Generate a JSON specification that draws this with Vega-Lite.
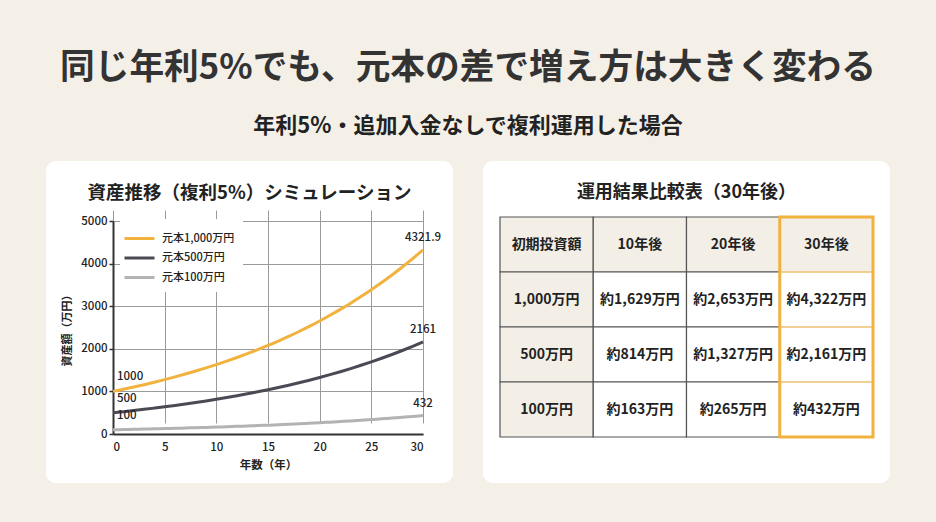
{
  "$schema": "https://vega.github.io/schema/vega-lite/v6.json",
  "background": "#f4f0e8",
  "padding": {"left": 46, "right": 46, "top": 51, "bottom": 39},
  "bounds": "flush",
  "spacing": 30,
  "title": {
    "text": "同じ年利5%でも、元本の差で増え方は大きく変わる",
    "subtitle": "年利5%・追加入金なしで複利運用した場合",
    "anchor": "middle",
    "fontSize": 34.7,
    "fontWeight": "bold",
    "color": "#333333",
    "subtitleFontSize": 22,
    "subtitleFontWeight": "bold",
    "subtitleColor": "#222222",
    "subtitlePadding": 29,
    "offset": 23
  },
  "datasets": {
    "growth": [
      {"series": "元本1,000万円", "year": 0, "value": 1000},
      {"series": "元本1,000万円", "year": 1, "value": 1050},
      {"series": "元本1,000万円", "year": 2, "value": 1102.5},
      {"series": "元本1,000万円", "year": 3, "value": 1157.6},
      {"series": "元本1,000万円", "year": 4, "value": 1215.5},
      {"series": "元本1,000万円", "year": 5, "value": 1276.3},
      {"series": "元本1,000万円", "year": 6, "value": 1340.1},
      {"series": "元本1,000万円", "year": 7, "value": 1407.1},
      {"series": "元本1,000万円", "year": 8, "value": 1477.5},
      {"series": "元本1,000万円", "year": 9, "value": 1551.3},
      {"series": "元本1,000万円", "year": 10, "value": 1628.9},
      {"series": "元本1,000万円", "year": 11, "value": 1710.3},
      {"series": "元本1,000万円", "year": 12, "value": 1795.9},
      {"series": "元本1,000万円", "year": 13, "value": 1885.6},
      {"series": "元本1,000万円", "year": 14, "value": 1979.9},
      {"series": "元本1,000万円", "year": 15, "value": 2078.9},
      {"series": "元本1,000万円", "year": 16, "value": 2182.9},
      {"series": "元本1,000万円", "year": 17, "value": 2292},
      {"series": "元本1,000万円", "year": 18, "value": 2406.6},
      {"series": "元本1,000万円", "year": 19, "value": 2527},
      {"series": "元本1,000万円", "year": 20, "value": 2653.3},
      {"series": "元本1,000万円", "year": 21, "value": 2786},
      {"series": "元本1,000万円", "year": 22, "value": 2925.3},
      {"series": "元本1,000万円", "year": 23, "value": 3071.5},
      {"series": "元本1,000万円", "year": 24, "value": 3225.1},
      {"series": "元本1,000万円", "year": 25, "value": 3386.4},
      {"series": "元本1,000万円", "year": 26, "value": 3555.7},
      {"series": "元本1,000万円", "year": 27, "value": 3733.5},
      {"series": "元本1,000万円", "year": 28, "value": 3920.1},
      {"series": "元本1,000万円", "year": 29, "value": 4116.1},
      {"series": "元本1,000万円", "year": 30, "value": 4321.9},
      {"series": "元本500万円", "year": 0, "value": 500},
      {"series": "元本500万円", "year": 1, "value": 525},
      {"series": "元本500万円", "year": 2, "value": 551.3},
      {"series": "元本500万円", "year": 3, "value": 578.8},
      {"series": "元本500万円", "year": 4, "value": 607.8},
      {"series": "元本500万円", "year": 5, "value": 638.1},
      {"series": "元本500万円", "year": 6, "value": 670},
      {"series": "元本500万円", "year": 7, "value": 703.6},
      {"series": "元本500万円", "year": 8, "value": 738.7},
      {"series": "元本500万円", "year": 9, "value": 775.7},
      {"series": "元本500万円", "year": 10, "value": 814.4},
      {"series": "元本500万円", "year": 11, "value": 855.2},
      {"series": "元本500万円", "year": 12, "value": 897.9},
      {"series": "元本500万円", "year": 13, "value": 942.8},
      {"series": "元本500万円", "year": 14, "value": 990},
      {"series": "元本500万円", "year": 15, "value": 1039.5},
      {"series": "元本500万円", "year": 16, "value": 1091.4},
      {"series": "元本500万円", "year": 17, "value": 1146},
      {"series": "元本500万円", "year": 18, "value": 1203.3},
      {"series": "元本500万円", "year": 19, "value": 1263.5},
      {"series": "元本500万円", "year": 20, "value": 1326.6},
      {"series": "元本500万円", "year": 21, "value": 1393},
      {"series": "元本500万円", "year": 22, "value": 1462.6},
      {"series": "元本500万円", "year": 23, "value": 1535.8},
      {"series": "元本500万円", "year": 24, "value": 1612.6},
      {"series": "元本500万円", "year": 25, "value": 1693.2},
      {"series": "元本500万円", "year": 26, "value": 1777.8},
      {"series": "元本500万円", "year": 27, "value": 1866.7},
      {"series": "元本500万円", "year": 28, "value": 1960.1},
      {"series": "元本500万円", "year": 29, "value": 2058.1},
      {"series": "元本500万円", "year": 30, "value": 2161},
      {"series": "元本100万円", "year": 0, "value": 100},
      {"series": "元本100万円", "year": 1, "value": 105},
      {"series": "元本100万円", "year": 2, "value": 110.3},
      {"series": "元本100万円", "year": 3, "value": 115.8},
      {"series": "元本100万円", "year": 4, "value": 121.6},
      {"series": "元本100万円", "year": 5, "value": 127.6},
      {"series": "元本100万円", "year": 6, "value": 134},
      {"series": "元本100万円", "year": 7, "value": 140.7},
      {"series": "元本100万円", "year": 8, "value": 147.7},
      {"series": "元本100万円", "year": 9, "value": 155.1},
      {"series": "元本100万円", "year": 10, "value": 162.9},
      {"series": "元本100万円", "year": 11, "value": 171},
      {"series": "元本100万円", "year": 12, "value": 179.6},
      {"series": "元本100万円", "year": 13, "value": 188.6},
      {"series": "元本100万円", "year": 14, "value": 198},
      {"series": "元本100万円", "year": 15, "value": 207.9},
      {"series": "元本100万円", "year": 16, "value": 218.3},
      {"series": "元本100万円", "year": 17, "value": 229.2},
      {"series": "元本100万円", "year": 18, "value": 240.7},
      {"series": "元本100万円", "year": 19, "value": 252.7},
      {"series": "元本100万円", "year": 20, "value": 265.3},
      {"series": "元本100万円", "year": 21, "value": 278.6},
      {"series": "元本100万円", "year": 22, "value": 292.5},
      {"series": "元本100万円", "year": 23, "value": 307.2},
      {"series": "元本100万円", "year": 24, "value": 322.5},
      {"series": "元本100万円", "year": 25, "value": 338.6},
      {"series": "元本100万円", "year": 26, "value": 355.6},
      {"series": "元本100万円", "year": 27, "value": 373.3},
      {"series": "元本100万円", "year": 28, "value": 392},
      {"series": "元本100万円", "year": 29, "value": 411.6},
      {"series": "元本100万円", "year": 30, "value": 432}
    ],
    "table": [
      {"row": "初期投資額", "col": "初期投資額", "text": "初期投資額"},
      {"row": "初期投資額", "col": "10年後", "text": "10年後"},
      {"row": "初期投資額", "col": "20年後", "text": "20年後"},
      {"row": "初期投資額", "col": "30年後", "text": "30年後"},
      {"row": "1,000万円", "col": "初期投資額", "text": "1,000万円"},
      {"row": "1,000万円", "col": "10年後", "text": "約1,629万円"},
      {"row": "1,000万円", "col": "20年後", "text": "約2,653万円"},
      {"row": "1,000万円", "col": "30年後", "text": "約4,322万円"},
      {"row": "500万円", "col": "初期投資額", "text": "500万円"},
      {"row": "500万円", "col": "10年後", "text": "約814万円"},
      {"row": "500万円", "col": "20年後", "text": "約1,327万円"},
      {"row": "500万円", "col": "30年後", "text": "約2,161万円"},
      {"row": "100万円", "col": "初期投資額", "text": "100万円"},
      {"row": "100万円", "col": "10年後", "text": "約163万円"},
      {"row": "100万円", "col": "20年後", "text": "約265万円"},
      {"row": "100万円", "col": "30年後", "text": "約432万円"}
    ],
    "highlight": [
      {"col": "30年後", "from": "初期投資額", "to": "100万円"}
    ]
  },
  "hconcat": [
    {
      "width": 407,
      "height": 322,
      "view": {"fill": "#ffffff", "stroke": null, "cornerRadius": 10},
      "title": {
        "text": "資産推移（複利5%）シミュレーション",
        "anchor": "middle",
        "frame": "group",
        "baseline": "middle",
        "offset": -50,
        "fontSize": 18.5,
        "fontWeight": "bold",
        "color": "#222222"
      },
      "data": {"name": "growth"},
      "encoding": {
        "x": {
          "field": "year",
          "type": "quantitative",
          "scale": {"domain": [0, 30], "range": [67, 377], "nice": false},
          "axis": {
            "values": [0, 5, 10, 15, 20, 25, 30],
            "offset": -49,
            "grid": true,
            "gridColor": "#9a9a9a",
            "gridWidth": 1,
            "ticks": false,
            "domainColor": "#333333",
            "domainWidth": 2,
            "labelPadding": 7,
            "labelFontSize": 11.5,
            "labelFontWeight": 500,
            "labelColor": "#222222",
            "title": "年数（年）",
            "titlePadding": 7,
            "titleFontSize": 11.5,
            "titleFontWeight": "bold",
            "titleColor": "#222222"
          }
        },
        "y": {
          "field": "value",
          "type": "quantitative",
          "scale": {"domain": [0, 5000], "range": [273, 60], "nice": false},
          "axis": {
            "values": [0, 1000, 2000, 3000, 4000, 5000],
            "format": "d",
            "offset": -67,
            "grid": true,
            "gridColor": "#9a9a9a",
            "gridWidth": 1,
            "ticks": true,
            "tickSize": 4,
            "tickColor": "#333333",
            "tickWidth": 1.5,
            "domainColor": "#333333",
            "domainWidth": 2,
            "labelPadding": 2,
            "labelFontSize": 11.5,
            "labelFontWeight": 500,
            "labelColor": "#222222",
            "title": "資産額（万円）",
            "titlePadding": 8,
            "titleFontSize": 11,
            "titleFontWeight": "bold",
            "titleColor": "#222222"
          }
        }
      },
      "layer": [
        {
          "mark": {"type": "line", "strokeWidth": 3, "interpolate": "monotone"},
          "encoding": {
            "color": {
              "field": "series",
              "type": "nominal",
              "scale": {
                "domain": ["元本1,000万円", "元本500万円", "元本100万円"],
                "range": ["#f2b23e", "#4a4a55", "#b3b3b3"]
              },
              "legend": {
                "orient": "none",
                "legendX": 74,
                "legendY": 58,
                "title": null,
                "fillColor": "#ffffff",
                "padding": 8,
                "symbolType": "M-1.5,0H1.5",
                "symbolSize": 400,
                "symbolStrokeWidth": 3,
                "labelFontSize": 11,
                "labelFontWeight": 500,
                "labelColor": "#222222",
                "labelOffset": 11,
                "rowPadding": 1.5
              }
            }
          }
        },
        {
          "transform": [{"filter": "datum.year == 0"}],
          "mark": {"type": "text", "align": "left", "baseline": "middle", "dx": 4, "dy": -14, "fontSize": 11.5, "fontWeight": 500, "color": "#222222"},
          "encoding": {"text": {"field": "value", "type": "quantitative", "format": "~g"}}
        },
        {
          "transform": [{"filter": "datum.year == 30"}],
          "mark": {"type": "text", "align": "center", "baseline": "middle", "dy": -12, "fontSize": 11.5, "fontWeight": 500, "color": "#222222"},
          "encoding": {"text": {"field": "value", "type": "quantitative", "format": "~g"}}
        }
      ]
    },
    {
      "width": 407,
      "height": 322,
      "view": {"fill": "#ffffff", "stroke": null, "cornerRadius": 10},
      "title": {
        "text": "運用結果比較表（30年後）",
        "anchor": "middle",
        "frame": "group",
        "baseline": "middle",
        "offset": -50,
        "fontSize": 18,
        "fontWeight": "bold",
        "color": "#222222"
      },
      "encoding": {
        "x": {
          "field": "col",
          "type": "nominal",
          "scale": {"domain": ["初期投資額", "10年後", "20年後", "30年後"], "range": [17, 390], "paddingInner": 0, "paddingOuter": 0},
          "axis": null
        }
      },
      "layer": [
        {
          "data": {"name": "table"},
          "mark": {"type": "rect", "stroke": "#555555", "strokeWidth": 1.2},
          "encoding": {
            "y": {"field": "row", "type": "nominal", "scale": {"domain": ["初期投資額", "1,000万円", "500万円", "100万円"], "range": [56, 276], "paddingInner": 0, "paddingOuter": 0}, "axis": null},
            "fill": {
              "condition": {"test": "datum.row == '初期投資額' || datum.col == '初期投資額'", "value": "#f3efe6"},
              "value": "#ffffff"
            }
          }
        },
        {
          "data": {"name": "table"},
          "transform": [{"filter": "datum.col == '30年後'"}],
          "mark": {"type": "rect", "fill": null, "stroke": "#f8d492", "strokeWidth": 1.5},
          "encoding": {
            "y": {"field": "row", "type": "nominal", "axis": null}
          }
        },
        {
          "data": {"name": "highlight"},
          "mark": {"type": "rect", "fill": null, "stroke": "#f2b23e", "strokeWidth": 3, "yOffset": -27.5, "y2Offset": 27.5},
          "encoding": {
            "y": {"field": "from", "type": "nominal", "axis": null},
            "y2": {"field": "to"}
          }
        },
        {
          "data": {"name": "table"},
          "mark": {"type": "text", "align": "center", "baseline": "middle", "fontSize": 14, "fontWeight": "bold", "color": "#222222"},
          "encoding": {
            "y": {"field": "row", "type": "nominal", "axis": null},
            "text": {"field": "text", "type": "nominal"}
          }
        }
      ]
    }
  ],
  "config": {
    "font": "Noto Sans CJK JP",
    "view": {"stroke": null}
  }
}
